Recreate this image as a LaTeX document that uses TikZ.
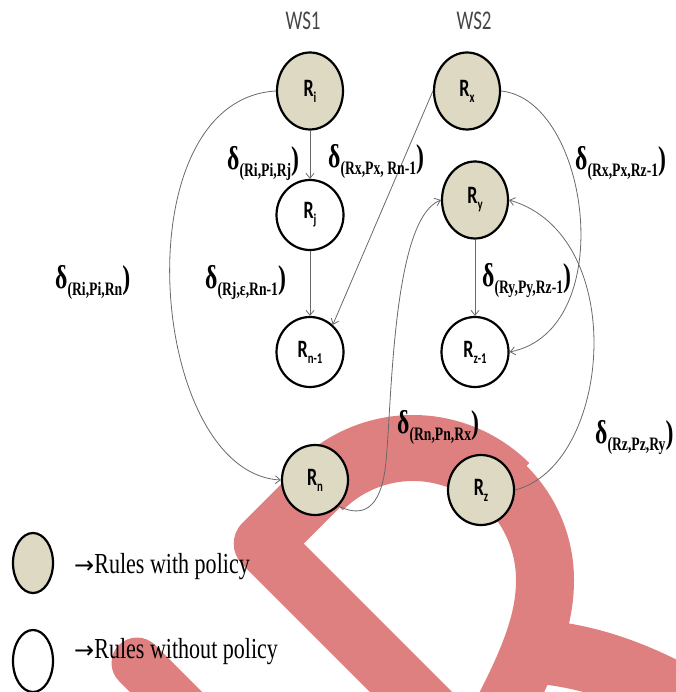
\documentclass[tikz,border=0pt]{standalone}
\usepackage{fontspec}
\setmainfont{Liberation Serif}
\newfontfamily\carl{Carlito}
\newfontfamily\djv{DejaVu Sans}
\usepackage{graphicx}
\usetikzlibrary{shapes.geometric,arrows.meta}
\definecolor{tanfill}{RGB}{221,217,195}
\definecolor{wmred}{RGB}{223,128,128}
\definecolor{lngray}{RGB}{105,105,105}
\definecolor{wsgray}{RGB}{70,70,70}
\newcommand\sq[2][0.74]{\scalebox{#1}[1]{#2}}
\newcommand\rl[1]{\sq[0.72]{\carl\bfseries\fontsize{25}{25}\selectfont R\raisebox{-6pt}{\fontsize{15}{15}\selectfont #1}}}
\newcommand\dl[1]{\sq[0.72]{\fontsize{33}{33}\selectfont\bfseries δ\raisebox{-7pt}{\fontsize{19}{19}\selectfont #1}\fontsize{33}{33}\selectfont)}}
\newcommand\legtext[1]{{\djv\fontsize{24}{24}\selectfont →}\sq[0.76]{\fontsize{29}{29}\selectfont #1}}
\begin{document}
\begin{tikzpicture}[x=1pt,y=-1pt,
  pol/.style={ellipse, draw=black, line width=2.2pt, fill=tanfill, minimum width=66pt, minimum height=77pt, inner sep=0pt},
  nopol/.style={ellipse, draw=black, line width=2.2pt, fill=white, minimum width=67pt, minimum height=70pt, inner sep=0pt},
  conn/.style={draw=lngray, line width=0.8pt, -{Straight Barb[length=5pt,width=8pt]}},
  lab/.style={anchor=base west, inner sep=0pt},
  wslab/.style={text=wsgray, inner sep=0pt}]
\useasboundingbox (0,0) rectangle (675,692);
% watermark
\begin{scope}[draw=wmred, line join=round]
\draw[line width=58pt] (441,722) -- (262.7,543.7) -- (319.7,486.7)
   .. controls (344.4,462) and (378,448) .. (413,448)
   .. controls (448,448) and (481.6,462) .. (506.3,486.7)
   .. controls (531,511.4) and (545,545) .. (545,580)
   .. controls (545,620) and (530,660) .. (495,725);
\draw[line width=66pt] (319.7,486.7)
   .. controls (344.4,462) and (378,448) .. (413,448)
   .. controls (448,448) and (481.6,462) .. (506.3,486.7);
\draw[line width=64pt] (540,652) .. controls (600,657) and (660,682) .. (720,722);
\draw[line width=51pt, line cap=round] (137,663) -- (195,721);
\end{scope}
% headers
\node[wslab] (ws1) at (303,21) {\sq[0.7]{\carl\fontsize{27}{27}\selectfont WS1}};
\node[wslab] (ws2) at (474,21) {\sq[0.7]{\carl\fontsize{27}{27}\selectfont WS2}};
% nodes
\node[pol] (Ri) at (310,91) {\rl{i}};
\node[pol] (Rx) at (467,91) {\rl{x}};
\node[nopol] (Rj) at (310,215) {\rl{j}};
\node[pol] (Ry) at (475,200) {\rl{y}};
\node[nopol] (Rn1) at (310,352) {\rl{n-1}};
\node[nopol] (Rz1) at (475,352) {\rl{z-1}};
\node[pol, minimum width=66pt, minimum height=70pt] (Rn) at (315,480) {\rl{n}};
\node[pol, minimum width=66pt, minimum height=70pt] (Rz) at (481,490) {\rl{z}};
\coordinate (bend) at (385,470);
% connectors
\draw[conn] (Ri) -- (Rj);
\draw[conn] (Rj) -- (Rn1);
\draw[conn] (Ry) -- (Rz1);
\draw[conn] (Rx.west) -- (Rn1.50);
\draw[conn] (Ri.west) .. controls (120,100) and (148,473) .. (Rn.west);
\draw[conn] (Rx.east) .. controls (590,100) and (620,330) .. (Rz1.east);
\draw[conn] (Rn.-48) .. controls (355,514) and (378,518) .. (bend)
   .. controls (392,420) and (390,220) .. (Ry.west);
\draw[conn] (Rz.east) .. controls (612,465) and (630,235) .. (Ry.east);
% labels
\node[lab] (d1) at (227,170) {\dl{(Ri,Pi,Rj}};
\node[lab] (d2) at (328,168) {\dl{(Rx,Px, Rn-1}};
\node[lab] (d3) at (55,288) {\dl{(Ri,Pi,Rn}};
\node[lab] (d4) at (205,288) {\dl{(Rj,ε,Rn-1}};
\node[lab] (d5) at (575,170) {\dl{(Rx,Px,Rz-1}};
\node[lab] (d6) at (482,286) {\dl{(Ry,Py,Rz-1}};
\node[lab] (d7) at (397,433) {\dl{(Rn,Pn,Rx}};
\node[lab] (d8) at (595,443) {\dl{(Rz,Pz,Ry}};
% legend
\node[pol, minimum width=40pt, minimum height=60pt] (L1) at (33,563) {};
\node[nopol, minimum width=40pt, minimum height=62pt] (L2) at (33,661) {};
\node[lab] (T1) at (74,573) {\legtext{Rules with policy}};
\node[lab] (T2) at (74,658) {\legtext{Rules without policy}};
\end{tikzpicture}
\end{document}
